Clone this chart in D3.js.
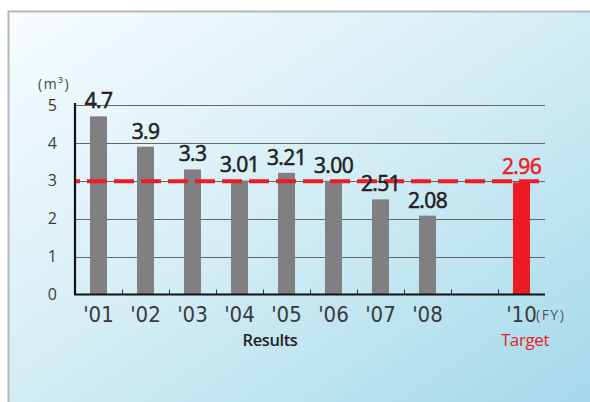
<!DOCTYPE html>
<html><head><meta charset="utf-8">
<script src="https://cdn.jsdelivr.net/npm/d3@7"></script>
<style>html,body{margin:0;padding:0;background:#fff;}svg{display:block;}</style>
</head><body>
<svg id="c" width="590" height="402"></svg>
<script>
const years = ["01","02","03","04","05","06","07","08","09","10"];
const tickLabels = ["'01","'02","'03","'04","'05","'06","'07","'08","","'10"];
const values = [4.7, 3.9, 3.3, 3.01, 3.21, 3.00, 2.51, 2.08, null, 2.96];
const valueLabels = ["4.7","3.9","3.3","3.01","3.21","3.00","2.51","2.08",null,"2.96"];
const isTarget = [false,false,false,false,false,false,false,false,false,true];
const yTicks = [0,1,2,3,4,5];
const targetValue = 2.96;

const svg = d3.select("#c");
const defs = svg.append("defs");
const g = defs.append("linearGradient").attr("id","bg").attr("x1","0").attr("y1","0").attr("x2","1").attr("y2","1");
g.append("stop").attr("offset","0%").attr("stop-color","#f8fcfe");
g.append("stop").attr("offset","45%").attr("stop-color","#d6eef6");
g.append("stop").attr("offset","100%").attr("stop-color","#a2d8ea");

svg.append("rect").attr("x",8).attr("y",11).attr("width",600).attr("height",400).attr("fill","url(#bg)");
svg.append("path").attr("d","M8.5,402V11.5H590").attr("fill","none").attr("stroke","#b8b8b8").attr("stroke-width",2);

const x = d3.scaleBand().domain(years).range([75,545]).paddingInner(0).paddingOuter(0);
const y = d3.scaleLinear().domain([0,5]).range([294.5,105]);
const bw = 17;

// gridlines
svg.append("g").selectAll("line").data(yTicks.filter(d=>d>0)).join("line")
  .attr("x1",75).attr("x2",545).attr("y1",d=>Math.round(y(d))+0.5).attr("y2",d=>Math.round(y(d))+0.5)
  .attr("stroke","#666").attr("stroke-width",1);

// bars
svg.append("g").selectAll("rect").data(years.map((k,i)=>({k,v:values[i],t:isTarget[i]})).filter(d=>d.v!=null)).join("rect")
  .attr("x",d=>x(d.k)+x.bandwidth()/2-bw/2).attr("width",bw)
  .attr("y",d=>y(d.v)).attr("height",d=>y(0)-y(d.v))
  .attr("fill",d=>d.t?"#ed1c24":"#808083");

// target dashed line
svg.append("line").attr("x1",75).attr("x2",545).attr("y1",y(targetValue)-1).attr("y2",y(targetValue)-1)
  .attr("stroke","#ed1c24").attr("stroke-width",4).attr("stroke-dasharray","20,7").attr("stroke-dashoffset",-12);

// x axis
const xAxis = d3.axisBottom(x).tickSize(0).tickFormat((d,i)=>tickLabels[i]);
const xa = svg.append("g").attr("transform",`translate(0,${y(0)})`).call(xAxis);
xa.select(".domain").remove();
xa.selectAll("text").attr("dy",null).attr("y",27)
  .attr("font-family","'Liberation Sans Narrow','DejaVu Sans Condensed','Roboto Condensed',sans-serif")
  .attr("font-size",22).attr("fill","#3a3a3a");
// boundary ticks
svg.append("g").selectAll("line").data(years.slice(1)).join("line")
  .attr("x1",d=>x(d)+0.5).attr("x2",d=>x(d)+0.5).attr("y1",y(0)).attr("y2",y(0)-5)
  .attr("stroke","#333").attr("stroke-width",1);
svg.append("line").attr("x1",74).attr("x2",545).attr("y1",y(0)).attr("y2",y(0)).attr("stroke","#111").attr("stroke-width",2.2);
svg.append("line").attr("x1",75).attr("x2",75).attr("y1",103).attr("y2",y(0)).attr("stroke","#111").attr("stroke-width",2.2);

// y axis labels
const yAxis = d3.axisLeft(y).tickValues(yTicks).tickFormat(d3.format("d")).tickSize(0).tickPadding(18);
const ya = svg.append("g").attr("transform","translate(75,0)").call(yAxis);
ya.select(".domain").remove();
ya.selectAll("text").attr("font-family","'Open Sans',sans-serif").attr("font-size",16).attr("fill","#3a3a3a");

// value labels
svg.append("g").selectAll("text").data(years.map((k,i)=>({k,v:values[i],l:valueLabels[i],t:isTarget[i]})).filter(d=>d.v!=null)).join("text")
  .attr("x",d=>x(d.k)+x.bandwidth()/2).attr("y",d=>y(d.v)-8)
  .attr("text-anchor","middle").attr("font-family","'Open Sans',sans-serif").attr("font-weight",400)
  .attr("font-size",21).attr("letter-spacing",-0.6)
  .attr("fill",d=>d.t?"#ed1c24":"#231f20")
  .attr("stroke",d=>d.t?"#ed1c24":"#231f20").attr("stroke-width",0.6)
  .text(d=>d.l);

// units
svg.append("text").attr("x",38).attr("y",89).attr("font-family","'Open Sans',sans-serif").attr("font-size",14)
  .attr("fill","#444").text("(m³)").attr("letter-spacing",1.5);
svg.append("text").attr("x",536).attr("y",320).attr("font-family","'Open Sans',sans-serif").attr("font-size",14)
  .attr("fill","#555").attr("letter-spacing",1.5).text("(FY)");

svg.append("text").attr("x",270).attr("y",346).attr("text-anchor","middle").attr("font-family","'Open Sans',sans-serif")
  .attr("font-weight",600).attr("font-size",16.5).attr("letter-spacing",-0.4).attr("fill","#231f20").text("Results");
svg.append("text").attr("x",525).attr("y",346).attr("text-anchor","middle").attr("font-family","'Open Sans',sans-serif")
  .attr("font-size",17).attr("letter-spacing",-0.4).attr("fill","#ed1c24").text("Target");
</script>
</body></html>
